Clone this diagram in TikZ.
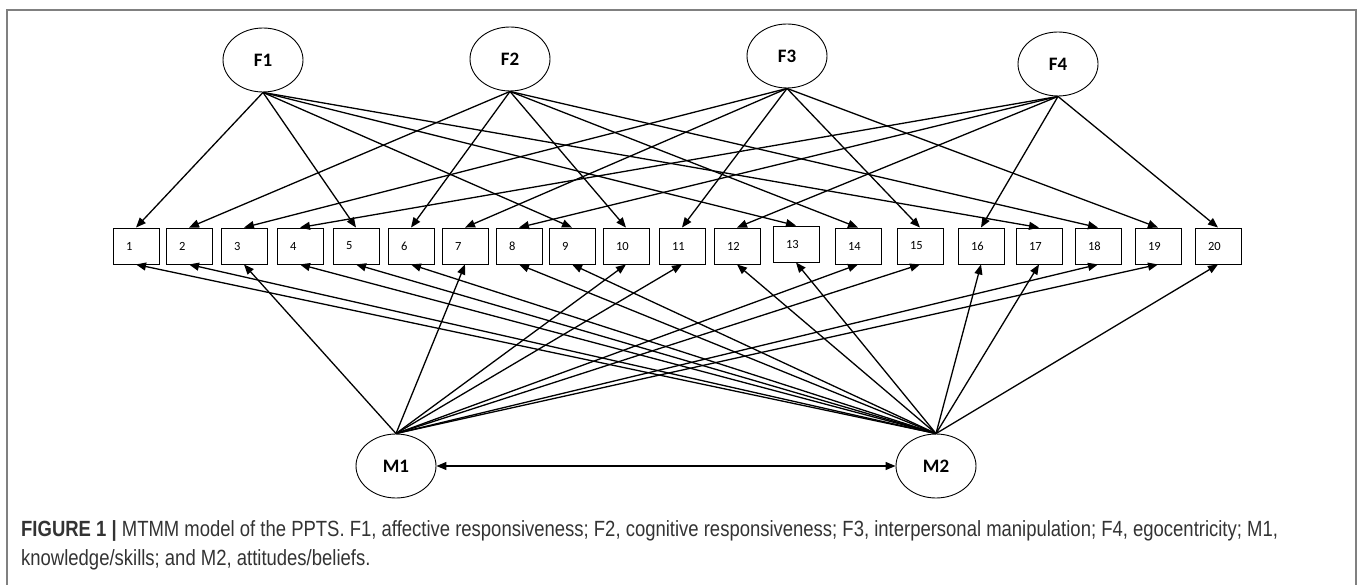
\documentclass[tikz,border=0pt]{standalone}
\usepackage{fontspec}
\usetikzlibrary{arrows.meta,shapes.geometric}
\setmainfont{Carlito}
\newfontfamily\capfont[FakeStretch=0.84]{Liberation Sans}

\begin{document}
\begin{tikzpicture}[x=1pt,y=-1pt,
  latent/.style={draw, line width=0.9pt, ellipse, minimum width=80pt, minimum height=64pt, inner sep=0pt, font=\fontsize{19}{19}\selectfont\bfseries},
  item/.style={draw, line width=0.9pt, minimum height=36pt, text width=20pt, inner xsep=13pt, inner ysep=0pt, align=left, font=\fontsize{12.5}{12.5}\selectfont},
  load/.style={-{Triangle[length=10pt,width=8pt]}, line width=1.3pt},
  corr/.style={{Triangle[length=10pt,width=8pt]}-{Triangle[length=10pt,width=8pt]}, line width=1.3pt}]

 \useasboundingbox (0,0) rectangle (1357,585);
 \draw[gray, line width=1.5pt] (7,10) rectangle (1356,592);

 % trait factors
 \node[latent] (F1) at (263,60) {F1};
 \node[latent] (F2) at (510,59) {F2};
 \node[latent] (F3) at (787,56) {F3};
 \node[latent] (F4) at (1058,64) {F4};

 % method factors
 \node[latent] (M1) at (396,466) {M1};
 \node[latent] (M2) at (936,466) {M2};

 % items
 \foreach \n/\x/\y in {1/136/246, 2/189/246, 3/244/246, 4/300/246, 5/356/246,
                       6/411/246, 7/465/246, 8/519/246, 9/572/246, 10/626/246,
                       11/682/246, 12/737/246, 13/796/244, 14/858/246, 15/920/246,
                       16/981/246, 17/1039/246, 18/1098/246, 19/1158/246, 20/1218/246}
   \node[item] (i\n) at (\x,\y) {\n};

 % loadings on the traits
 \foreach \i in {1,...,20}
 {  \pgfmathtruncatemacro\f{mod(\i-1,4)+1}
    \draw[load] (F\f.south) -- (i\i.north);
 }

 % loadings on the methods
 \foreach \i in {3,7,10,11,14,15,18,19}
   \draw[load] (M1.north) -- (i\i.south);
 \foreach \i in {1,2,4,5,6,8,9,12,13,16,17,20}
   \draw[load] (M2.north) -- (i\i.south);

 \draw[corr] (M1) -- (M2);

 \node[anchor=north west, align=left, inner sep=0pt, text=black!80,
       font=\capfont\fontsize{22}{29}\selectfont] (cap) at (21,520)
   {\textbf{FIGURE 1 |} MTMM model of the PPTS. F1, affective responsiveness; F2, cognitive responsiveness; F3, interpersonal manipulation; F4, egocentricity; M1,\\
    knowledge/skills; and M2, attitudes/beliefs.};

\end{tikzpicture}
\end{document}
